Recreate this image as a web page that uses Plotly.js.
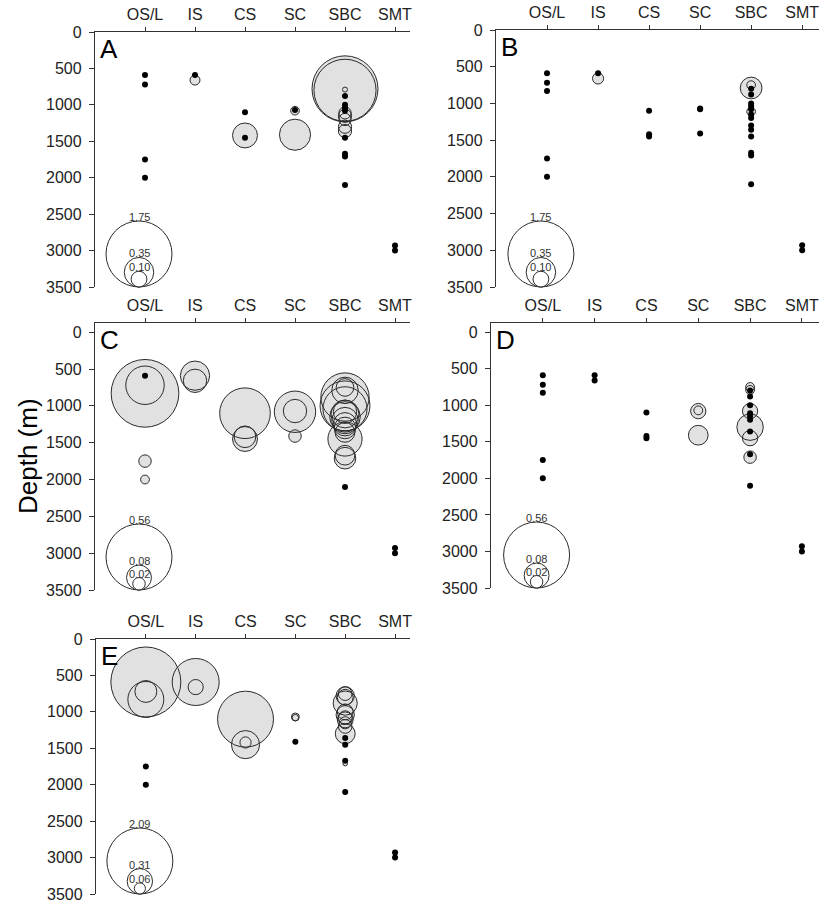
<!DOCTYPE html>
<html><head><meta charset="utf-8">
<script src="https://cdn.plot.ly/plotly-3.0.1.min.js"></script>
<style>html,body{margin:0;padding:0;background:#fff}#chart{width:819px;height:903px}</style>
</head><body><div id="chart"></div>
<script>
// ---------------- DATA ----------------
const categories = ['OS/L','IS','CS','SC','SBC','SMT'];
const yTickValues = [0,500,1000,1500,2000,2500,3000,3500];
const panelLetters = ['A','B','C','D','E'];

// sampling stations (category, depth in m)
const stationCat = [
  'OS/L','OS/L','OS/L','OS/L','OS/L',
  'IS','IS',
  'CS','CS','CS',
  'SC','SC','SC',
  'SBC','SBC','SBC','SBC','SBC','SBC','SBC','SBC','SBC','SBC','SBC','SBC','SBC','SBC','SBC','SBC','SBC','SBC',
  'SMT','SMT'
];
const stationDepth = [
  590,720,830,1750,2000,
  590,660,
  1100,1420,1450,
  1070,1080,1410,
  750,780,790,800,880,1000,1040,1080,1110,1150,1200,1250,1300,1360,1450,1670,1710,2100,
  2930,3000
];

// values per panel (0 = station sampled, none found; null = not sampled)
const valuesA = [
  0,0,null,0,0,
  0,0.04,
  0,0.25,0,
  0,0.03,0.39,
  null,1.75,0.01,1.55,0,0,0,0,0.06,0.07,0.06,null,0.07,0.07,0,0,0,0,
  0,0
];
const valuesB = [
  0,0,0,0,0,
  0,0.05,
  0,0,0,
  0,0,0,
  0.03,null,0.19,0,0,0,0,0,0.03,0,0,null,0,0,0,0,0,0,
  0,0
];
const valuesC = [
  0,0.19,0.59,0.02,0.01,
  0.11,0.07,
  0.33,0.06,0.08,
  0.07,0.22,0.02,
  0.04,null,0.09,null,0.30,0.32,0.25,0.07,0.10,0.12,0.09,0.07,0.06,0.05,0.15,0.05,0.06,0,
  0,0
];
const valuesD = [
  0,0,0,0,0,
  0,0,
  0,0,0,
  0.01,0.03,0.05,
  0.01,null,0.01,0,0,0,null,0.03,0,0,0,null,0.09,0,0.03,0,0.02,0,
  0,0
];
const valuesE = [
  2.35,0.23,0.62,0,0,
  1.06,0.11,
  1.50,0.06,0.38,
  0.03,0.02,0,
  0.09,0.16,null,0.12,0.28,0.12,0.16,0.09,0.12,0.07,0.09,null,0.19,0,0,0,0.01,0,
  0,0
];

// bubble-size legend values per panel
const legendA = [1.75,0.35,0.10];
const legendB = [1.75,0.35,0.10];
const legendC = [0.56,0.08,0.02];
const legendD = [0.56,0.08,0.02];
const legendE = [2.09,0.31,0.06];

// ---------------- LAYOUT ----------------
const W = 819, H = 903;
const FONT = 'Liberation Sans, Arial, sans-serif';
const panels = [
  {vals: valuesA, leg: legendA, x0: 95,  x1: 410, y0: 32,  y1: 287, yTop: 0,    xMax: 6.3},
  {vals: valuesB, leg: legendB, x0: 496, x1: 819, y0: 30,  y1: 287, yTop: 0,    xMax: 6.33},
  {vals: valuesC, leg: legendC, x0: 95,  x1: 410, y0: 323, y1: 590, yTop: -125, xMax: 6.3},
  {vals: valuesD, leg: legendD, x0: 491, x1: 819, y0: 323, y1: 588, yTop: -125, xMax: 6.33},
  {vals: valuesE, leg: legendE, x0: 96,  x1: 410, y0: 639, y1: 894, yTop: 0,    xMax: 6.3}
];
const DMAX = 66;         // px diameter of the largest legend bubble
const LEGEND_X = 0.88;   // legend bubbles sit just left of OS/L

const traces = [];
const annotations = [];
const layout = {
  width: W, height: H,
  margin: {l: 0, r: 0, t: 0, b: 0},
  paper_bgcolor: '#fff', plot_bgcolor: 'rgba(0,0,0,0)',
  showlegend: false,
  font: {family: FONT, color: '#222'}
};

panels.forEach((p, i) => {
  const n = i === 0 ? '' : String(i + 1);
  const xa = 'x' + n, ya = 'y' + n;
  const pxPerM = (p.y1 - p.y0) / (3500 - p.yTop);
  const legMax = p.leg[0];
  const sz = v => DMAX * Math.sqrt(v / legMax);
  const xOf = k => categories.indexOf(stationCat[k]) + 1;

  const idx = stationDepth.map((d, k) => k);
  const pos = idx.filter(k => p.vals[k] !== null && p.vals[k] > 0)
                 .sort((a, b) => p.vals[b] - p.vals[a]);
  const zero = idx.filter(k => p.vals[k] === 0);

  const bx = pos.map(xOf), by = pos.map(k => stationDepth[k]);
  const bs = pos.map(k => sz(p.vals[k]));
  // fills (all under), then outlines (all on top)
  traces.push({
    type: 'scatter', mode: 'markers', xaxis: xa, yaxis: ya, cliponaxis: false,
    x: bx, y: by,
    marker: {size: bs, sizemode: 'diameter', color: '#e1e1e1', opacity: 1, line: {width: 0}},
    hoverinfo: 'skip'
  });
  traces.push({
    type: 'scatter', mode: 'markers', xaxis: xa, yaxis: ya, cliponaxis: false,
    x: bx, y: by,
    marker: {size: bs, sizemode: 'diameter', color: 'rgba(0,0,0,0)', opacity: 1,
             line: {color: '#2b2b2b', width: 1}},
    hoverinfo: 'skip'
  });
  traces.push({
    type: 'scatter', mode: 'markers', xaxis: xa, yaxis: ya, cliponaxis: false,
    x: zero.map(xOf), y: zero.map(k => stationDepth[k]),
    marker: {size: 6, color: '#000', line: {width: 0}},
    hoverinfo: 'skip'
  });

  // size legend
  const ls = p.leg.map(sz);
  traces.push({
    type: 'scatter', mode: 'markers', xaxis: xa, yaxis: ya, cliponaxis: false,
    x: p.leg.map(() => LEGEND_X),
    y: ls.map(s => 3500 - (s / 2) / pxPerM),
    marker: {size: ls, sizemode: 'diameter', color: '#fff', opacity: 1,
             line: {color: '#2b2b2b', width: 1}},
    hoverinfo: 'skip'
  });
  p.leg.forEach((v, j) => {
    annotations.push({
      xref: xa, yref: ya, x: LEGEND_X, y: 3500 - ls[j] / pxPerM,
      text: v.toFixed(2), showarrow: false, xanchor: 'center', yanchor: 'bottom',
      yshift: -4, font: {family: FONT, size: 11, color: '#333'}
    });
  });

  // panel letter
  annotations.push({
    xref: xa + ' domain', yref: ya + ' domain', x: 0.008, y: 1.0,
    xanchor: 'left', yanchor: 'top', text: panelLetters[i], showarrow: false,
    font: {family: FONT, size: 26, color: '#000'}
  });

  layout['xaxis' + n] = {
    domain: [p.x0 / W, p.x1 / W], range: [0, p.xMax], anchor: ya, side: 'top',
    tickvals: categories.map((c, k) => k + 1), ticktext: categories,
    ticks: 'outside', ticklen: 4, tickcolor: '#333', tickwidth: 1,
    ticklabeloverflow: 'allow',
    showline: true, linecolor: '#333', linewidth: 1.2,
    showgrid: false, zeroline: false, fixedrange: true,
    tickfont: {family: FONT, size: 16, color: '#222'}
  };
  layout['yaxis' + n] = {
    domain: [1 - p.y1 / H, 1 - p.y0 / H], range: [3500, p.yTop], anchor: xa,
    tickvals: yTickValues, ticktext: yTickValues.map(String),
    ticks: 'outside', ticklen: 5, tickcolor: '#333', tickwidth: 1,
    ticklabelstandoff: 4, ticklabeloverflow: 'allow',
    showline: true, linecolor: '#333', linewidth: 1.2,
    showgrid: false, zeroline: false, fixedrange: true,
    tickfont: {family: FONT, size: 16, color: '#222'}
  };
});

annotations.push({
  xref: 'paper', yref: 'paper', x: 28 / W, y: 1 - 456 / H,
  xanchor: 'center', yanchor: 'middle', textangle: -90,
  text: 'Depth (m)', showarrow: false,
  font: {family: FONT, size: 26, color: '#000'}
});
layout.annotations = annotations;

Plotly.newPlot('chart', traces, layout, {staticPlot: true, displayModeBar: false});
</script>
</body></html>
